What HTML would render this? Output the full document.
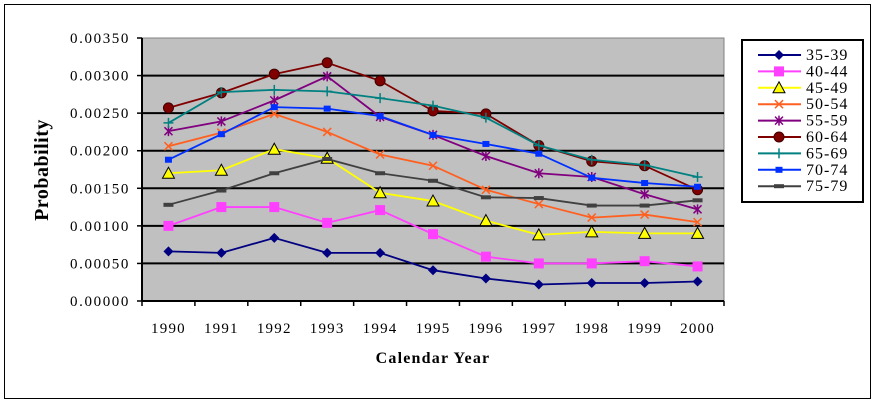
<!DOCTYPE html>
<html><head><meta charset="utf-8"><style>
body{margin:0;background:#fff}
svg{display:block;font-family:"Liberation Serif",serif}
</style></head><body>
<svg id="chart" width="876" height="405">
<rect x="4.5" y="4.5" width="866" height="394" fill="#fff" stroke="#000" stroke-width="1"/>
<rect x="142" y="38" width="582" height="263" fill="#c0c0c0" stroke="#808080"/>
<g id="grid"></g><g id="axes"></g><g id="series"></g>
<text x="48" y="170" transform="rotate(-90 48 170)" text-anchor="middle" font-size="20" font-weight="bold" letter-spacing="0.5">Probability</text>
<text x="433" y="363" text-anchor="middle" font-size="16" font-weight="bold" letter-spacing="1.2">Calendar Year</text>
<rect x="742" y="40" width="121" height="162" fill="#fff" stroke="#000" stroke-width="2"/>
<g id="legend"></g>
</svg>
<script>
const years=["1990","1991","1992","1993","1994","1995","1996","1997","1998","1999","2000"];
const yTicks=[0,0.0005,0.001,0.0015,0.002,0.0025,0.003,0.0035];
const names=["35-39","40-44","45-49","50-54","55-59","60-64","65-69","70-74","75-79"];
const s3539=[.00066,.00064,.00084,.00064,.00064,.00041,.00030,.00022,.00024,.00024,.00026];
const s4044=[.00100,.00125,.00125,.00104,.00121,.00089,.00059,.00050,.00050,.00053,.00046];
const s4549=[.00170,.00174,.00202,.00190,.00144,.00133,.00107,.00088,.00092,.00090,.00090];
const s5054=[.00206,.00224,.00249,.00225,.00195,.00180,.00148,.00129,.00111,.00115,.00105];
const s5559=[.00226,.00239,.00267,.00299,.00245,.00221,.00193,.00170,.00165,.00142,.00122];
const s6064=[.00257,.00277,.00302,.00317,.00293,.00253,.00249,.00207,.00186,.00180,.00148];
const s6569=[.00237,.00278,.00281,.00279,.00270,.00260,.00244,.00207,.00188,.00181,.00165];
const s7074=[.00188,.00222,.00258,.00256,.00246,.00221,.00209,.00196,.00164,.00157,.00152];
const s7579=[.00128,.00147,.00170,.00189,.00170,.00160,.00138,.00137,.00127,.00127,.00134];
const data=[s3539,s4044,s4549,s5054,s5559,s6064,s6569,s7074,s7579];
const colors=["#000080","#ff40ff","#ffff00","#ff6020","#800080","#800000","#008080","#0030ff","#404040"];
const markers=["diamond","square","triangle","x","star","circle","plus","smallsq","dash"];
const L=142,R=724,T=38,B=301,ymax=0.0035;
const bw=(R-L)/years.length;
const xs=i=>L+bw*(i+0.5);
const ys=v=>B-(v/ymax)*(B-T);
const NS="http://www.w3.org/2000/svg";
function mk(t,a,p){const e=document.createElementNS(NS,t);for(const k in a)e.setAttribute(k,a[k]);p.appendChild(e);return e;}
const grid=document.getElementById('grid'),axes=document.getElementById('axes'),ser=document.getElementById('series'),leg=document.getElementById('legend');
yTicks.forEach(v=>{
 if(v>0&&v<ymax){const g=mk('line',{x1:L,x2:R,y1:ys(v),y2:ys(v),stroke:'#000','stroke-width':2},grid);
 
 }
 mk('line',{x1:L-5,x2:L,y1:ys(v),y2:ys(v),stroke:'#000','stroke-width':1.5},axes);
 const t=mk('text',{x:L-12,y:ys(v)+5,'text-anchor':'end','font-size':15,'letter-spacing':1.6},axes);t.textContent=v.toFixed(5);
 
 
});
mk('line',{x1:L,x2:L,y1:T,y2:B,stroke:'#000','stroke-width':2},axes);
mk('line',{x1:L,x2:R,y1:B,y2:B,stroke:'#000','stroke-width':2},axes);
for(let i=0;i<=years.length;i++)mk('line',{x1:L+bw*i,x2:L+bw*i,y1:B,y2:B+5,stroke:'#000','stroke-width':1.5},axes);
years.forEach((y,i)=>{const t=mk('text',{x:xs(i),y:333,'text-anchor':'middle','font-size':15,'letter-spacing':1.2},axes);t.textContent=y;
 
 });
function marker(k,x,y,c,p){
 const sw={stroke:'#000','stroke-width':1};
 if(k=='diamond')mk('polygon',{points:`${x},${y-5} ${x+5},${y} ${x},${y+5} ${x-5},${y}`,fill:c},p);
 else if(k=='square')mk('rect',{x:x-5,y:y-5,width:10,height:10,fill:c},p);
 else if(k=='triangle')mk('polygon',{points:`${x},${y-6} ${x+6},${y+5} ${x-6},${y+5}`,fill:c,...sw},p);
 else if(k=='x'){mk('path',{d:`M${x-4} ${y-4}L${x+4} ${y+4}M${x+4} ${y-4}L${x-4} ${y+4}`,stroke:c,'stroke-width':1.5},p);}
 else if(k=='star'){mk('path',{d:`M${x-4} ${y-4}L${x+4} ${y+4}M${x+4} ${y-4}L${x-4} ${y+4}M${x} ${y-5}L${x} ${y+5}`,stroke:c,'stroke-width':1.5},p);}
 else if(k=='circle')mk('circle',{cx:x,cy:y,r:5,fill:c,stroke:'#400000'},p);
 else if(k=='plus')mk('path',{d:`M${x-5} ${y}L${x+5} ${y}M${x} ${y-5}L${x} ${y+5}`,stroke:c,'stroke-width':1.5},p);
 else if(k=='smallsq')mk('rect',{x:x-3.5,y:y-3,width:7,height:6,fill:c},p);
 else if(k=='dash')mk('rect',{x:x-5,y:y-2,width:10,height:4,fill:c},p);
}
data.forEach((arr,si)=>{
 const g=mk('g',{},ser);
 
 
 mk('polyline',{points:arr.map((v,i)=>xs(i)+','+ys(v)).join(' '),fill:'none',stroke:colors[si],'stroke-width':1.8},g);
 arr.forEach((v,i)=>marker(markers[si],xs(i),ys(v),colors[si],g));
 const ly=55+si*16.4;
 const lg=mk('g',{},leg);
 
 
 mk('line',{x1:758,x2:801,y1:ly,y2:ly,stroke:colors[si],'stroke-width':2},lg);
 marker(markers[si],779,ly,colors[si],lg);
 const t=mk('text',{x:806,y:ly+5,'font-size':16,'letter-spacing':1},lg);t.textContent=names[si];
});
</script>
</body></html>
